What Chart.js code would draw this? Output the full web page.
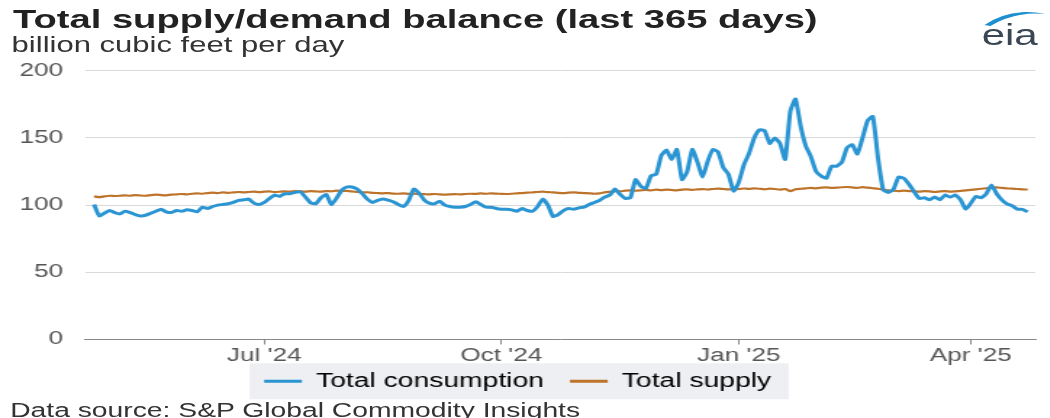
<!DOCTYPE html>
<html>
<head>
<meta charset="utf-8">
<script src="https://cdn.jsdelivr.net/npm/chart.js@4"></script>
<style>
  html, body { margin: 0; padding: 0; background: #fff; overflow: hidden; }
  body { width: 1050px; height: 418px; }
  /* the reference is stretched sideways, so the whole page is drawn narrow and widened */
  #page { position: absolute; left: 0; top: 0; width: 724px; height: 418px;
          transform: scaleX(1.45); transform-origin: 0 0;
          font-family: "Liberation Sans", Arial, sans-serif; }
  #title { position: absolute; left: 9px; top: 4px; font-size: 26.3px; font-weight: bold; color: #222; line-height: 30px; white-space: nowrap; }
  #subtitle { position: absolute; left: 8px; top: 34px; font-size: 21.4px; color: #333; line-height: 22px; white-space: nowrap; }
  #logo { position: absolute; left: 676px; top: 6px; width: 46px; height: 42px; }
  #box { position: absolute; left: 0; top: 45px; width: 724px; height: 370px; }
  #source { position: absolute; left: 7px; top: 400px; font-size: 19.5px; color: #333; line-height: 20px; white-space: nowrap; }
</style>
</head>
<body>
<div id="page">
  <div id="title">Total supply/demand balance (last 365 days)</div>
  <div id="subtitle">billion cubic feet per day</div>
  <svg id="logo" viewBox="0 0 46 42">
    <path d="M3 19 Q21 1 45 8 Q25 5 7 20 Z" fill="#1b8fd0"/>
    <text x="1" y="39" font-family="Liberation Sans, Arial, sans-serif" font-size="29" fill="#3a4652">eia</text>
  </svg>
  <div id="box"><canvas id="canvas1"></canvas></div>
  <div id="source">Data source: S&amp;P Global Commodity Insights</div>
</div>

<script>
//DONNEES

const axisStart = '2024-04-23'   // bord gauche de l'axe des temps
const firstDate = '2024-04-26'   // premiere valeur
const stepDays  = 2              // une valeur tous les 2 jours

const tickDates  = ['2024-07-01', '2024-10-01', '2025-01-01', '2025-04-01']
const tickLabels = ["Jul '24", "Oct '24", "Jan '25", "Apr '25"]

const yTicks = [0, 50, 100, 150, 200]

// Total consumption (Bcf/d)
const consumption = [
    100.5, 92, 94, 96, 94.5, 93.5, 95.5, 94.5, 93, 92,
    92.5, 94, 95.5, 97, 95, 94.5, 96, 95.5, 96.5, 96,
    95, 98.5, 97.5, 99, 100, 100.5, 101, 102, 103.5, 104,
    104.5, 101.5, 100.5, 102, 105, 107.5, 106.5, 108.5, 108.5, 109.5,
    110, 106, 101.7, 101, 105.5, 108, 100.5, 105, 111, 113.5,
    113.5, 112, 108.5, 104.5, 102, 103.5, 104.5, 103.7, 102.5, 100.5,
    99, 103.5, 112, 109, 104, 101.5, 101, 103, 100, 99,
    98.5, 98.5, 99, 100.5, 102.5, 100.5, 98.5, 98.5, 97.5, 97,
    97, 96.5, 95.5, 97.5, 96, 95.5, 99, 104.5, 100, 91.5,
    93, 96, 97.5, 97, 98, 98.5, 100.5, 102, 103.5, 106,
    107.5, 112, 108, 105, 105.5, 119, 114, 112.5, 122, 123,
    137, 141, 134, 141.5, 119, 125, 141.5, 132, 121, 133,
    141.5, 139.5, 128, 123, 110.5, 117, 130, 138.5, 150, 156,
    155.5, 146, 150, 146, 134, 170, 179, 159, 144, 136,
    125, 121.6, 120, 129, 129, 132, 142.8, 145, 138, 150,
    163, 166, 135, 111.5, 109.5, 111.7, 121, 120, 115.5, 110,
    105, 105.5, 104, 106, 104, 107.5, 106, 107.5, 104, 97,
    101.5, 106.5, 105.5, 108.5, 115, 108.5, 104, 101, 99.5, 97,
    96.8, 95
]

// Total supply (Bcf/d)
const supply = [
    106.5, 106, 106.5, 107, 106.8, 107, 107.3, 107, 107.5, 107.2,
    107, 107.5, 107.8, 107.5, 107.3, 107.8, 108, 108.3, 108, 108.5,
    108.8, 108.5, 109, 109.3, 109, 109.5, 109.2, 109.5, 109.8, 109.5,
    109.8, 110, 109.7, 110, 110.2, 109.8, 110, 110.3, 110, 110.5,
    110.2, 110, 110.4, 110.2, 110, 110.5, 110.3, 110.8, 110.5, 110.6,
    110.2, 109.8, 109.5, 109.6, 109.2, 109, 108.8, 109, 108.6, 108.5,
    108.7, 108.4, 108.6, 108.3, 108.2, 108, 108.3, 108, 107.8, 108,
    108.2, 108, 108.3, 108.5, 108.4, 108.7, 108.5, 108.8, 108.6, 108.4,
    108.3, 108.5, 108.8, 109, 109.3, 109.5, 109.8, 110, 109.7, 109.5,
    109.2, 109, 109.3, 109.5, 109.2, 109, 108.8, 108.5, 108.8, 109.5,
    110, 110.5, 110.2, 110.8, 111, 110.7, 111, 111.3, 111, 111.5,
    111.2, 111.6, 111.3, 111, 111.5, 111.8, 111.4, 111.7, 112, 111.6,
    112, 112.3, 112, 111.7, 112.2, 112, 112.4, 112.1, 112.5, 112.2,
    111.8, 112.3, 112, 111.5, 112, 110.5, 111.8, 112.2, 112.5, 112.8,
    112.5, 113, 113.2, 112.8, 113, 113.3, 113.5, 113.2, 112.8, 113.4,
    113, 112.6, 112.2, 111.6, 111, 110.7, 110.5, 110.8, 110.5, 110.3,
    110, 110.4, 110.2, 109.8, 110.2, 110.5, 110, 110.3, 110.6, 111,
    111.4, 111.8, 112.2, 112.6, 113, 113.2, 112.8, 112.5, 112.3, 112,
    111.8, 111.5
]

//FONCTIONS

// nombre de jours depuis le debut de l'axe
function dayOf(date){
    return (Date.parse(date) - Date.parse(axisStart)) / 86400000
}

function toPoints(values){
    let first = dayOf(firstDate)
    return values.map((v, i) => ({x: first + i * stepDays, y: v}))
}

let tickDays = tickDates.map(dayOf)

const legendPadding = 18
const legendFontSize = 19.5
const legendLift = 14

// remonte la legende et dessine son fond gris
const legendBackground = {
    id: 'legendBackground',
    afterLayout(chart){
        chart.legend.top -= legendLift
        chart.legend.bottom -= legendLift
    },
    beforeDraw(chart){
        let boxes = chart.legend.legendHitBoxes
        if (!boxes || !boxes.length) return
        let first = boxes[0]
        let last = boxes[boxes.length - 1]
        let ctx = chart.ctx
        let midY = chart.legend.top + legendPadding + legendFontSize / 2
        ctx.save()
        ctx.fillStyle = '#edeff2'
        ctx.fillRect(first.left - 10, midY - 18, last.left + last.width - first.left + 22, 36)
        ctx.restore()
    }
}

//GRAPHIQUE

let balanceCanvas = document.getElementById('canvas1')
let balance = balanceCanvas.getContext('2d')

let balanceConfig = {
    type: 'line',
    data: {
        datasets: [{
            label: 'Total consumption',
            data: toPoints(consumption),
            borderColor: '#2a95d2',
            backgroundColor: '#2a95d2',
            borderWidth: 3,
            pointRadius: 0,
            tension: 0.15,
        }, {
            label: 'Total supply',
            data: toPoints(supply),
            borderColor: '#bd732a',
            backgroundColor: '#bd732a',
            borderWidth: 2.2,
            pointRadius: 0,
            tension: 0.15,
        }]
    },
    options: {
        responsive: true,
        maintainAspectRatio: false,
        animation: false,
        layout: {
            padding: {top: 5, right: 10, left: 0, bottom: 0}
        },
        scales: {
            x: {
                type: 'linear',
                min: -0.5,
                max: 368,
                afterFit: scale => { scale.height = 28 },
                afterBuildTicks: scale => {
                    scale.ticks = tickDays.map(d => ({value: d}))
                },
                ticks: {
                    autoSkip: false,
                    maxRotation: 0,
                    padding: 1,
                    color: '#555',
                    font: {family: 'Liberation Sans', size: 18},
                    callback: value => tickLabels[tickDays.indexOf(value)]
                },
                grid: {
                    drawOnChartArea: false,
                    tickLength: 5,
                    color: '#888'
                },
                border: {color: '#888', width: 1}
            },
            y: {
                min: 0,
                max: 200,
                afterFit: scale => { scale.width = 58.6 },
                afterBuildTicks: scale => {
                    scale.ticks = yTicks.map(v => ({value: v}))
                },
                ticks: {
                    padding: 15,
                    color: '#555',
                    font: {family: 'Liberation Sans', size: 18}
                },
                grid: {
                    color: '#d9d9d9',
                    drawTicks: false
                },
                border: {display: false}
            }
        },
        plugins: {
            legend: {
                position: 'bottom',
                labels: {
                    boxWidth: 26,
                    boxHeight: 3,
                    padding: legendPadding,
                    color: '#555',
                    font: {family: 'Liberation Sans', size: legendFontSize},
                    generateLabels: chart => chart.data.datasets.map((ds, i) => ({
                        text: ds.label,
                        fillStyle: ds.borderColor,
                        strokeStyle: ds.borderColor,
                        lineWidth: 0,
                        hidden: false,
                        datasetIndex: i
                    }))
                }
            },
            tooltip: {enabled: false}
        }
    },
    plugins: [legendBackground]
}

//Initialisation du graph
let balanceChart = new Chart(balance, balanceConfig)
</script>
</body>
</html>
